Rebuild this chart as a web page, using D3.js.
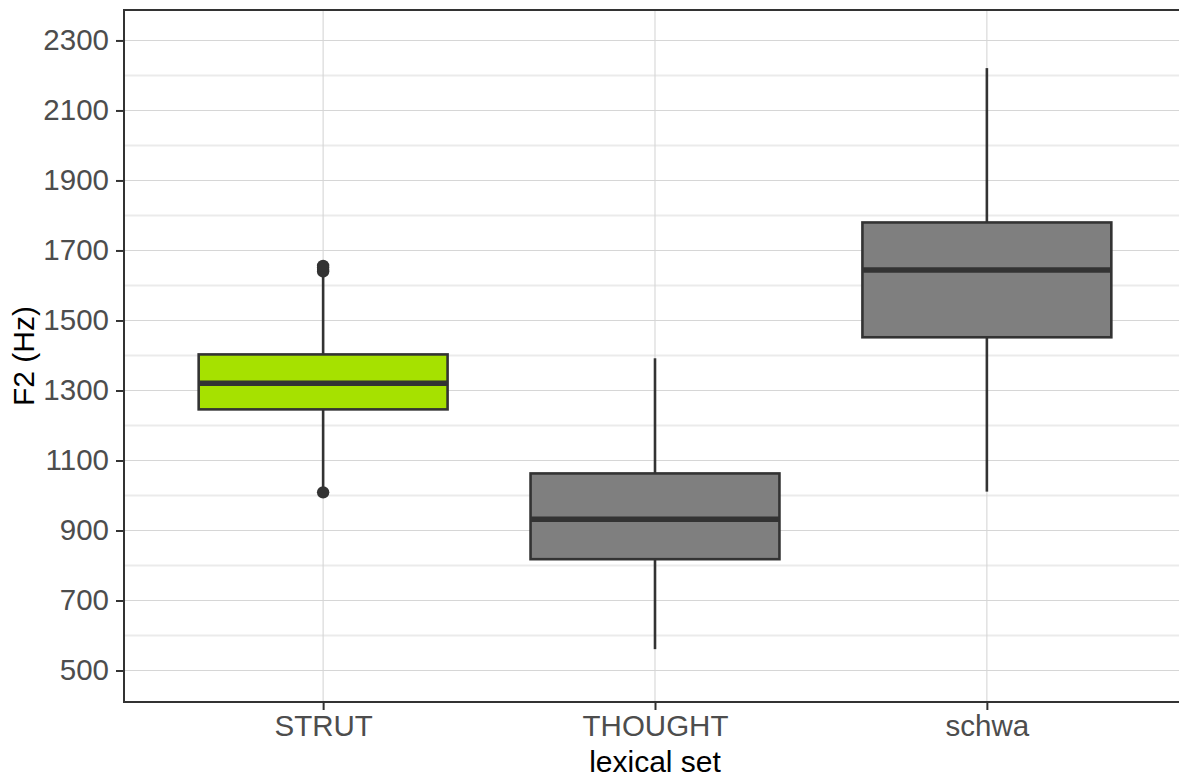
<!DOCTYPE html>
<html>
<head>
<meta charset="utf-8">
<script src="https://cdn.jsdelivr.net/npm/d3@7"></script>
<style>
  html, body { margin: 0; padding: 0; background: #fff; }
  svg { display: block; }
  text { font-family: "Liberation Sans", Arial, Helvetica, sans-serif; }
</style>
</head>
<body>
<svg id="chart" width="1179" height="781"></svg>
<script>
// F2 summary per lexical set
const categories   = ["STRUT", "THOUGHT", "schwa"];
const whiskerLow   = [1012, 561, 1011];
const q1           = [1246, 818, 1452];
const median       = [1321, 932, 1644];
const q3           = [1403, 1063, 1780];
const whiskerHigh  = [1635, 1392, 2221];
const outliers     = [[1009, 1640, 1645, 1651, 1656], [], []];
const fills        = ["#a6e100", "#7f7f7f", "#7f7f7f"];
const majorTicks   = [500, 700, 900, 1100, 1300, 1500, 1700, 1900, 2100, 2300];
const minorTicks   = [600, 800, 1000, 1200, 1400, 1600, 1800, 2000, 2200];

const svg = d3.select("#chart");
const panel = { left: 124, right: 1186, top: 10, bottom: 702 };

const x = d3.scalePoint().domain(categories).range([panel.left, panel.right]).padding(0.6);
const y = d3.scaleLinear().domain([410, 2387]).range([panel.bottom, panel.top]);
const boxW = x.step() * 0.75;

const ink = "#333333";

// grid
const grid = svg.append("g");
grid.selectAll(".minor").data(minorTicks).join("line")
  .attr("x1", panel.left).attr("x2", panel.right)
  .attr("y1", d => y(d)).attr("y2", d => y(d))
  .attr("stroke", "#ebebeb").attr("stroke-width", 2);
grid.selectAll(".major").data(majorTicks).join("line")
  .attr("x1", panel.left).attr("x2", panel.right)
  .attr("y1", d => y(d)).attr("y2", d => y(d))
  .attr("stroke", "#d6d6d6").attr("stroke-width", 1.1);
grid.selectAll(".vmajor").data(categories).join("line")
  .attr("x1", d => x(d)).attr("x2", d => x(d))
  .attr("y1", panel.top).attr("y2", panel.bottom)
  .attr("stroke", "#d6d6d6").attr("stroke-width", 1.1);

// boxes
const rows = categories.map((c, i) => ({
  c, lo: whiskerLow[i], q1: q1[i], med: median[i], q3: q3[i], hi: whiskerHigh[i],
  out: outliers[i], fill: fills[i]
}));

const boxes = svg.append("g").selectAll("g").data(rows).join("g");

boxes.append("line")
  .attr("x1", d => x(d.c)).attr("x2", d => x(d.c))
  .attr("y1", d => y(d.hi)).attr("y2", d => y(d.q3))
  .attr("stroke", ink).attr("stroke-width", 2.6);
boxes.append("line")
  .attr("x1", d => x(d.c)).attr("x2", d => x(d.c))
  .attr("y1", d => y(d.q1)).attr("y2", d => y(d.lo))
  .attr("stroke", ink).attr("stroke-width", 2.6);
boxes.append("rect")
  .attr("x", d => x(d.c) - boxW / 2).attr("width", boxW)
  .attr("y", d => y(d.q3)).attr("height", d => y(d.q1) - y(d.q3))
  .attr("fill", d => d.fill).attr("stroke", ink).attr("stroke-width", 2.6);
boxes.append("line")
  .attr("x1", d => x(d.c) - boxW / 2).attr("x2", d => x(d.c) + boxW / 2)
  .attr("y1", d => y(d.med)).attr("y2", d => y(d.med))
  .attr("stroke", ink).attr("stroke-width", 5.5);
boxes.selectAll("circle").data(d => d.out.map(v => ({ c: d.c, v }))).join("circle")
  .attr("cx", d => x(d.c)).attr("cy", d => y(d.v)).attr("r", 6.2)
  .attr("fill", ink);

// panel border
svg.append("rect")
  .attr("x", panel.left).attr("y", panel.top)
  .attr("width", panel.right - panel.left).attr("height", panel.bottom - panel.top)
  .attr("fill", "none").attr("stroke", ink).attr("stroke-width", 2);

// axes
const yAxis = svg.append("g").attr("transform", `translate(${panel.left},0)`)
  .call(d3.axisLeft(y).tickValues(majorTicks).tickSize(8).tickPadding(7).tickFormat(d3.format("d")));
yAxis.select(".domain").remove();
yAxis.selectAll(".tick line").attr("stroke", ink).attr("stroke-width", 2);
yAxis.selectAll(".tick text").attr("fill", "#4d4d4d").attr("font-size", 29.5)
  .attr("font-family", "'Liberation Sans', Arial, sans-serif");

const xAxis = svg.append("g").attr("transform", `translate(0,${panel.bottom})`)
  .call(d3.axisBottom(x).tickSize(8).tickPadding(5));
xAxis.select(".domain").remove();
xAxis.selectAll(".tick line").attr("stroke", ink).attr("stroke-width", 2);
xAxis.selectAll(".tick text").attr("fill", "#4d4d4d").attr("font-size", 29.5)
  .attr("font-family", "'Liberation Sans', Arial, sans-serif");

// titles
svg.append("text")
  .attr("x", x("THOUGHT")).attr("y", 772)
  .attr("text-anchor", "middle").attr("font-size", 30).attr("fill", "#000")
  .text("lexical set");
svg.append("text")
  .attr("transform", `translate(34,${(panel.top + panel.bottom) / 2}) rotate(-90)`)
  .attr("text-anchor", "middle").attr("font-size", 30).attr("fill", "#000")
  .text("F2 (Hz)");
</script>
</body>
</html>
